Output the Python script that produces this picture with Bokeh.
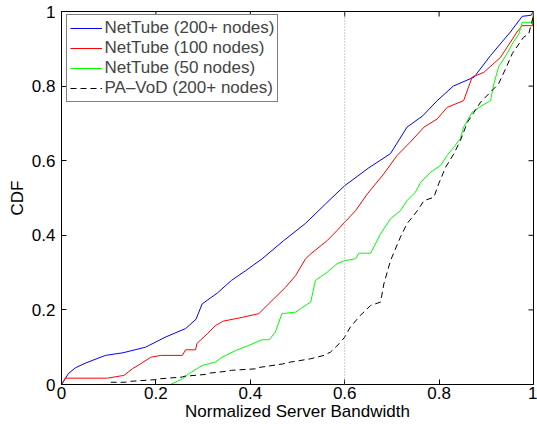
from bokeh.plotting import figure
from bokeh.models import FixedTicker, Span, Range1d
from bokeh.embed import file_html
from bokeh.resources import INLINE

# ---- data ----
blue_x = [0.0, 0.005, 0.015, 0.03, 0.05, 0.093, 0.13, 0.178, 0.22, 0.263, 0.285, 0.298, 0.33, 0.36, 0.39,
          0.425, 0.47, 0.517, 0.56, 0.6, 0.65, 0.697, 0.732, 0.765, 0.796, 0.83, 0.874, 0.909, 0.951,
          0.976, 0.995, 1.0]
blue_y = [0.0, 0.01, 0.03, 0.045, 0.057, 0.078, 0.085, 0.1, 0.127, 0.15, 0.175, 0.216, 0.245, 0.279, 0.305,
          0.337, 0.385, 0.432, 0.485, 0.533, 0.58, 0.619, 0.69, 0.72, 0.761, 0.8, 0.824, 0.882, 0.945,
          0.987, 0.99, 1.0]

red_x = [0.0, 0.005, 0.008, 0.097, 0.13, 0.132, 0.15, 0.167, 0.189, 0.21, 0.256, 0.263, 0.284, 0.287, 0.309,
         0.326, 0.343, 0.383, 0.418, 0.446, 0.475, 0.496, 0.517, 0.528, 0.563, 0.584, 0.6, 0.623, 0.648,
         0.683, 0.711, 0.739, 0.768, 0.796, 0.817, 0.852, 0.87, 0.895, 0.93, 0.944, 0.965, 0.976, 0.998, 1.0]
red_y = [0.0, 0.01, 0.017, 0.017, 0.024, 0.024, 0.042, 0.055, 0.073, 0.078, 0.078, 0.093, 0.093, 0.11, 0.136,
         0.158, 0.17, 0.18, 0.19, 0.225, 0.261, 0.292, 0.337, 0.35, 0.386, 0.413, 0.435, 0.466, 0.511,
         0.565, 0.614, 0.65, 0.69, 0.712, 0.743, 0.761, 0.824, 0.837, 0.877, 0.904, 0.945, 0.962, 0.962, 1.0]

green_x = [0.0, 0.231, 0.256, 0.27, 0.298, 0.326, 0.34, 0.369, 0.397, 0.425, 0.44, 0.453, 0.467, 0.496,
           0.506, 0.528, 0.538, 0.563, 0.584, 0.6, 0.623, 0.63, 0.655, 0.676, 0.697, 0.718, 0.732, 0.75,
           0.761, 0.782, 0.803, 0.817, 0.831, 0.845, 0.852, 0.87, 0.891, 0.909, 0.916, 0.926, 0.944, 0.955,
           0.969, 0.976, 0.998, 1.0]
green_y = [0.0, 0.0, 0.015, 0.029, 0.051, 0.06, 0.073, 0.091, 0.105, 0.12, 0.12, 0.14, 0.19, 0.194,
           0.203, 0.221, 0.279, 0.301, 0.324, 0.332, 0.337, 0.352, 0.352, 0.404, 0.444, 0.466, 0.493, 0.516,
           0.542, 0.569, 0.587, 0.614, 0.636, 0.659, 0.69, 0.73, 0.748, 0.761, 0.806, 0.851, 0.887, 0.913,
           0.94, 0.971, 0.971, 1.0]

black_x = [0.0, 0.1, 0.105, 0.136, 0.14, 0.199, 0.205, 0.256, 0.26, 0.305, 0.31, 0.354, 0.36, 0.411,
           0.415, 0.468, 0.485, 0.528, 0.556, 0.57, 0.588, 0.6, 0.612, 0.633, 0.655, 0.676, 0.683, 0.697,
           0.718, 0.732, 0.754, 0.768, 0.789, 0.799, 0.814, 0.831, 0.845, 0.86, 0.874, 0.888, 0.926, 0.944,
           0.955, 0.969, 0.979, 0.99, 1.0]
black_y = [0.0, 0.0, 0.006, 0.006, 0.008, 0.013, 0.015, 0.02, 0.022, 0.027, 0.03, 0.036, 0.038, 0.042,
           0.045, 0.055, 0.06, 0.069, 0.078, 0.087, 0.109, 0.127, 0.154, 0.185, 0.212, 0.221, 0.27, 0.332,
           0.395, 0.431, 0.466, 0.493, 0.502, 0.538, 0.583, 0.618, 0.654, 0.703, 0.73, 0.757, 0.806, 0.855,
           0.887, 0.913, 0.931, 0.94, 0.99]

series_labels = ["NetTube (200+ nodes)", "NetTube (100 nodes)", "NetTube (50 nodes)", "PA\u2013VoD (200+ nodes)"]
tick_values = [0.0, 0.2, 0.4, 0.6, 0.8, 1.0]
tick_labels = ["0", "0.2", "0.4", "0.6", "0.8", "1"]
marker_x = 0.6

FONT = "Liberation Sans"
FS = "17px"
FRAME_W, FRAME_H = 472, 373
TICK_PX = 5

p = figure(width=537, height=424, output_backend="svg", toolbar_location=None,
           x_range=Range1d(0, 1), y_range=Range1d(0, 1),
           min_border_left=61, min_border_right=4, min_border_top=11, min_border_bottom=40)
p.background_fill_color = "white"
p.border_fill_color = "white"
p.outline_line_color = "black"
p.outline_line_width = 1
p.grid.visible = False

p.add_layout(Span(location=marker_x, dimension="height", line_color="#999999",
                  line_dash="1 2", line_width=1))

# inward ticks on the top and right edges of the box
top = tick_values[-1]
n = len(tick_values)
p.segment(x0=tick_values, y0=[top] * n, x1=tick_values, y1=[top - TICK_PX / FRAME_H] * n,
          line_color="black", line_width=1)
p.segment(x0=[top] * n, y0=tick_values, x1=[top - TICK_PX / FRAME_W] * n, y1=tick_values,
          line_color="black", line_width=1)

p.line(blue_x, blue_y, line_color="#0000ff", line_width=1, legend_label=series_labels[0])
p.line(red_x, red_y, line_color="#ff0000", line_width=1, legend_label=series_labels[1])
p.line(green_x, green_y, line_color="#00ff00", line_width=1, legend_label=series_labels[2])
p.line(black_x, black_y, line_color="black", line_width=1, line_dash="6 4", legend_label=series_labels[3])

overrides = dict(zip(tick_values, tick_labels))
for ax in (p.xaxis[0], p.yaxis[0]):
    ax.ticker = FixedTicker(ticks=tick_values)
    ax.major_label_overrides = overrides
    ax.major_tick_in = 5
    ax.major_tick_out = 0
    ax.minor_tick_line_color = None
    ax.axis_line_color = "black"
    ax.major_tick_line_color = "black"
    ax.major_label_text_font = FONT
    ax.major_label_text_font_size = FS
    ax.major_label_text_color = "black"
    ax.axis_label_text_font = FONT
    ax.axis_label_text_font_size = FS
    ax.axis_label_text_font_style = "normal"
    ax.axis_label_text_color = "black"
p.xaxis.axis_label = "Normalized Server Bandwidth"
p.yaxis.axis_label = "CDF"
p.xaxis.major_label_standoff = 2
p.xaxis.axis_label_standoff = 0
p.yaxis.major_label_standoff = 6
p.yaxis.axis_label_standoff = 2

lg = p.legend[0]
lg.location = (4.5, 282.5)
lg.margin = 0
lg.padding = 3
lg.spacing = 0
lg.label_text_font = FONT
lg.label_text_font_size = FS
lg.label_height = 20
lg.glyph_height = 20
lg.glyph_width = 32
lg.label_standoff = 3
lg.border_line_color = "black"
lg.border_line_width = 1
lg.background_fill_alpha = 1.0

open("out.html", "w").write(file_html(p, INLINE))
